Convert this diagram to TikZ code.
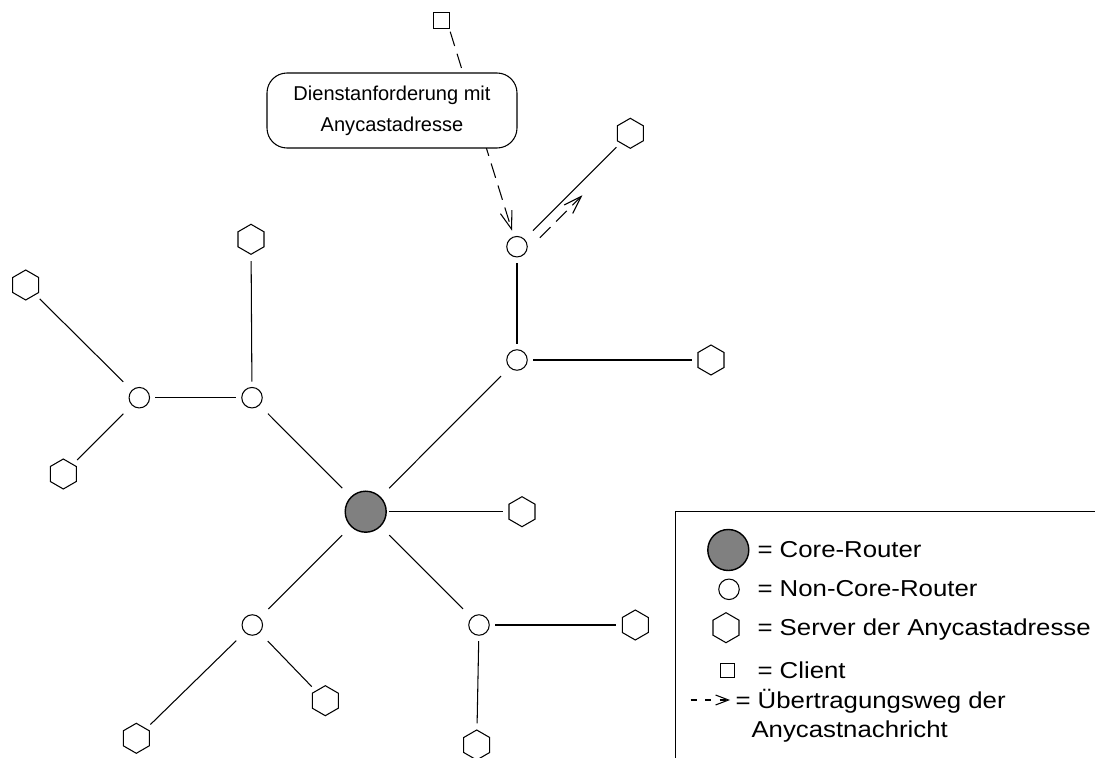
\documentclass[tikz,border=0pt]{standalone}
\usepackage{fontspec}
\setmainfont{Liberation Sans}
\newfontfamily\legendfont[FakeStretch=1.12]{Liberation Sans}
\usetikzlibrary{positioning, arrows.meta, shapes.geometric, calc}

\begin{document}
\begin{tikzpicture}[
    line width=0.6pt,
    router/.style={rectangle, inner sep=0pt, minimum size=0.62cm,
        path picture={\draw[line width=0.6pt] (path picture bounding box.center) circle (0.205cm);}},
    core/.style={rectangle, inner sep=0pt, minimum size=0.92cm,
        path picture={\draw[line width=0.8pt, fill=gray] (path picture bounding box.center) circle (0.41cm);}},
    server/.style={regular polygon, regular polygon sides=6, shape border rotate=30, draw, minimum size=0.6cm, inner sep=0pt, outer sep=0.12cm},
    client/.style={rectangle, draw, minimum size=0.32cm, inner sep=0pt, outer sep=0.06cm},
    callout/.style={rectangle, draw, rounded corners=0.4cm, fill=white, minimum width=5cm, minimum height=1.5cm, align=center, font=\fontsize{11.4}{17.8}\selectfont},
    msg/.style={dash pattern=on 0.3cm off 0.16cm, -{Straight Barb[length=0.36cm, width=0.24cm]}},
    legmsg/.style={dash pattern=on 0.12cm off 0.17cm, -{Straight Barb[length=0.26cm, width=0.2cm]}},
    legtext/.style={anchor=base west, inner sep=0pt, font=\legendfont\fontsize{13.1}{17}\selectfont},
]
\useasboundingbox (0,0) rectangle (21.9,-15.16);

% --- Router ---
\node[core] (core) at (7.314, -10.234) {};
\node[router] (r1) at (10.34, -4.934) {};
\node[router] (r2) at (10.34, -7.2) {};
\node[router] (rl1) at (5.04, -7.954) {};
\node[router] (rl2) at (2.786, -7.954) {};
\node[router] (rb1) at (5.046, -12.5) {};
\node[router] (rb2) at (9.58, -12.5) {};

% --- Server der Anycastadresse ---
\node[server] (s1) at (12.606, -2.666) {};
\node[server] (s2) at (14.22, -7.2) {};
\node[server] (s3) at (5.02, -4.786) {};
\node[server] (s4) at (0.514, -5.7) {};
\node[server] (s5) at (1.266, -9.48) {};
\node[server] (s6) at (10.44, -10.234) {};
\node[server] (s7) at (6.506, -14.014) {};
\node[server] (s8) at (2.726, -14.766) {};
\node[server] (s9) at (12.706, -12.5) {};
\node[server] (s10) at (9.534, -14.9) {};

% --- Client ---
\node[client] (client) at (8.826, -0.414) {};

% --- Verbindungen ---
\draw (core) -- (r2);
\draw (core) -- (rl1);
\draw (core) -- (s6);
\draw (core) -- (rb1);
\draw (core) -- (rb2);
\draw (r2) -- (r1);
\draw (r2) -- (s2);
\draw (r1) -- (s1);
\draw (rl1) -- (s3);
\draw (rl1) -- (rl2);
\draw (rl2) -- (s4);
\draw (rl2) -- (s5);
\draw (rb1) -- (s7);
\draw (rb1) -- (s8);
\draw (rb2) -- (s9);
\draw (rb2) -- (s10);

% --- Anycastnachricht ---
\draw[msg] (client.-51) -- (r1);
\coordinate (fwda) at ($(r1)!0.14!(s1) + (0.14,-0.14)$);
\coordinate (fwdb) at ($(r1)!0.515!(s1) + (0.14,-0.14)$);
\draw[msg] (fwda) -- (fwdb);
\node[callout] (request) at (7.84, -2.21) {Dienstanforderung mit\\Anycastadresse};

% --- Legende ---
\draw (21.9, -10.23) -- (13.51, -10.23) -- (13.51, -15.16);
\node[core] (lcore) at (14.566, -11.0) {};
\node[router] (lrouter) at (14.58, -11.786) {};
\node[server] (lserver) at (14.52, -12.554) {};
\node[client, minimum size=0.28cm] (lclient) at (14.55, -13.414) {};
\coordinate (lmsga) at (13.814, -14.0);
\coordinate (lmsgb) at (14.6, -14.0);
\draw[legmsg] (lmsga) -- (lmsgb);
\node[legtext] (tcore) at (15.14, -11.146) {= Core-Router};
\node[legtext] (trouter) at (15.14, -11.934) {= Non-Core-Router};
\node[legtext] (tserver) at (15.14, -12.70) {= Server der Anycastadresse};
\node[legtext] (tclient) at (15.14, -13.566) {= Client};
\node[legtext] (tmsg) at (14.70, -14.166) {= Übertragungsweg der};
\node[legtext] (tmsgb) at (15.02, -14.746) {Anycastnachricht};

\end{tikzpicture}
\end{document}
